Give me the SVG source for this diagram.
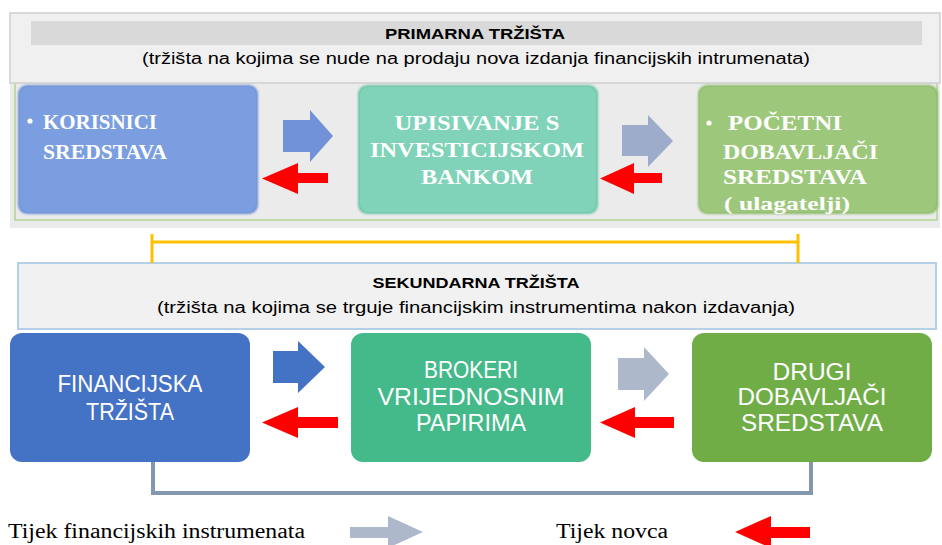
<svg xmlns="http://www.w3.org/2000/svg" width="942" height="545" viewBox="0 0 942 545">
<style>
.hdr{font-family:"Liberation Sans",Arial,sans-serif;fill:#000;text-anchor:middle}
.ht{font-size:15px;font-weight:bold}
.hs{font-size:16px}
.tb{font-family:"Liberation Serif","Times New Roman",serif;font-weight:bold;fill:#fff;font-size:21px}
.bb{font-family:"Liberation Sans Narrow","Liberation Sans",Arial,sans-serif;fill:#fff;font-size:24px;text-anchor:middle}
.lg{font-family:"Liberation Serif","Times New Roman",serif;fill:#000;font-size:20px}
.red{fill:#ff0000}
</style>
<defs>
<filter id="soft" x="-5%" y="-5%" width="110%" height="110%">
<feGaussianBlur stdDeviation="1.2"/>
</filter>
</defs>
<rect width="942" height="545" fill="#fff"/>
<g id="primary-panel">
<rect x="10" y="72" width="930" height="156" fill="#ebebeb"/>
<rect x="15" y="80" width="922" height="140" fill="none" stroke="#9fd07a" stroke-width="1.2"/>
</g>
<g id="primary-header">
<rect x="10" y="13" width="930" height="70" fill="#f0f0f0" stroke="#cfcfcf" stroke-width="1.5"/>
<rect x="31" y="21" width="891" height="24" fill="#d9d9d9"/>
<text class="hdr ht" x="475" y="39" textLength="180" lengthAdjust="spacingAndGlyphs">PRIMARNA TRŽIŠTA</text>
<text class="hdr hs" x="476" y="64" textLength="668" lengthAdjust="spacingAndGlyphs">(tržišta na kojima se nude na prodaju nova izdanja financijskih intrumenata)</text>
</g>
<g id="korisnici">
<rect x="18" y="85" width="240" height="129" rx="9" fill="#6a8fd6" filter="url(#soft)"/>
<rect x="20" y="87" width="236" height="125" rx="8" fill="#7a9ee0"/>
<circle cx="30" cy="121" r="2.6" fill="#fff"/>
<text class="tb" x="43" y="129" textLength="114" lengthAdjust="spacingAndGlyphs">KORISNICI</text>
<text class="tb" x="43" y="159" textLength="124" lengthAdjust="spacingAndGlyphs">SREDSTAVA</text>
</g>
<g id="upisivanje">
<rect x="358" y="85" width="240" height="129" rx="9" fill="#6cc4a8" filter="url(#soft)"/>
<rect x="360" y="87" width="236" height="125" rx="8" fill="#80d2b8"/>
<text class="tb" x="477" y="130" text-anchor="middle" textLength="165" lengthAdjust="spacingAndGlyphs">UPISIVANJE S</text>
<text class="tb" x="477" y="157" text-anchor="middle" textLength="214" lengthAdjust="spacingAndGlyphs">INVESTICIJSKOM</text>
<text class="tb" x="477" y="184" text-anchor="middle" textLength="112" lengthAdjust="spacingAndGlyphs">BANKOM</text>
</g>
<g id="pocetni">
<rect x="698" y="85" width="240" height="129" rx="9" fill="#8cbb69" filter="url(#soft)"/>
<rect x="700" y="87" width="236" height="125" rx="8" fill="#9dc87c"/>
<circle cx="709" cy="123" r="2.6" fill="#fff"/>
<text class="tb" x="728" y="130" textLength="114" lengthAdjust="spacingAndGlyphs">POČETNI</text>
<text class="tb" x="723" y="159" textLength="155" lengthAdjust="spacingAndGlyphs">DOBAVLJAČI</text>
<text class="tb" x="723" y="184" textLength="144" lengthAdjust="spacingAndGlyphs">SREDSTAVA</text>
<text class="tb" x="724" y="210" style="font-size:19px" textLength="126" lengthAdjust="spacingAndGlyphs">( ulagatelji)</text>
</g>
<g id="secondary-header">
<rect x="18" y="263" width="918" height="66" fill="#f1f1f1" stroke="#b4cfe8" stroke-width="2"/>
<text class="hdr ht" x="476" y="288" textLength="207" lengthAdjust="spacingAndGlyphs">SEKUNDARNA TRŽIŠTA</text>
<text class="hdr hs" x="476" y="313" textLength="638" lengthAdjust="spacingAndGlyphs">(tržišta na kojima se trguje financijskim instrumentima nakon izdavanja)</text>
</g>
<g id="financijska">
<rect x="10" y="333" width="240" height="129" rx="12" fill="#4472c4"/>
<text class="bb" x="130" y="392" textLength="145" lengthAdjust="spacingAndGlyphs">FINANCIJSKA</text>
<text class="bb" x="130" y="420" textLength="88" lengthAdjust="spacingAndGlyphs">TRŽIŠTA</text>
</g>
<g id="brokeri">
<rect x="351" y="333" width="240" height="129" rx="12" fill="#44b98a"/>
<text class="bb" x="471" y="378" textLength="94" lengthAdjust="spacingAndGlyphs">BROKERI</text>
<text class="bb" x="471" y="405" textLength="187" lengthAdjust="spacingAndGlyphs">VRIJEDNOSNIM</text>
<text class="bb" x="471" y="431" textLength="110" lengthAdjust="spacingAndGlyphs">PAPIRIMA</text>
</g>
<g id="drugi">
<rect x="692" y="333" width="240" height="129" rx="12" fill="#70ad47"/>
<text class="bb" x="812" y="380" textLength="79" lengthAdjust="spacingAndGlyphs">DRUGI</text>
<text class="bb" x="812" y="405" textLength="149" lengthAdjust="spacingAndGlyphs">DOBAVLJAČI</text>
<text class="bb" x="812" y="431" textLength="142" lengthAdjust="spacingAndGlyphs">SREDSTAVA</text>
</g>
<g id="connectors">
<path d="M152 263 V234 M152 242 H798 M798 234 V263" fill="none" stroke="#ffc000" stroke-width="3"/>
<path d="M153 462 V493 H811 V462" fill="none" stroke="#8497b0" stroke-width="4"/>
<polygon points="283,120 310,120 310,110 333,136 310,162 310,152 283,152" fill="#7192d8"/>
<polygon points="328,173 298,173 298,163 262,178.5 298,194 298,183 328,183" class="red"/>
<polygon points="622,125 648,125 648,115 673,141 648,167 648,156 622,156" fill="#9eaccb"/>
<polygon points="662,173 634,173 634,163 600,178.5 634,194 634,183 662,183" class="red"/>
<polygon points="273,351 298,351 298,341 325,367 298,393 298,383 273,383" fill="#4472c4"/>
<polygon points="338,417 298,417 298,407 262,422.5 298,438 298,428 338,428" class="red"/>
<polygon points="618,358 644,358 644,347 669,374 644,401 644,390 618,390" fill="#adb9ca"/>
<polygon points="674,417 635,417 635,407 600,422.5 635,438 635,428 674,428" class="red"/>
</g>
<g id="legend">
<text class="lg" x="8" y="538" textLength="297" lengthAdjust="spacingAndGlyphs">Tijek financijskih instrumenata</text>
<polygon points="350,527 388,527 388,516 423,532 388,548 388,538 350,538" fill="#adb9ca"/>
<text class="lg" x="556" y="538" textLength="112" lengthAdjust="spacingAndGlyphs">Tijek novca</text>
<polygon points="810,527 771,527 771,516 735,532 771,548 771,538 810,538" class="red"/>
</g>
</svg>
